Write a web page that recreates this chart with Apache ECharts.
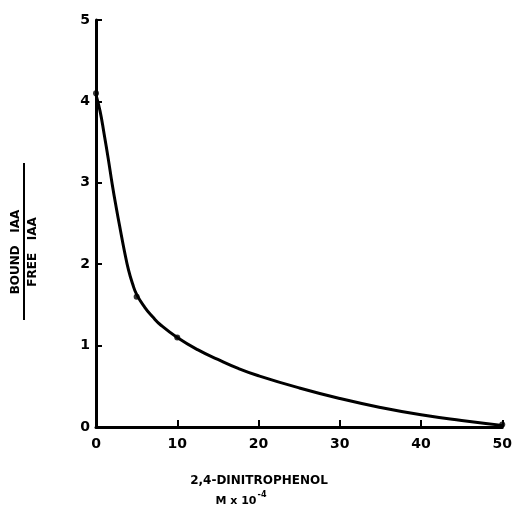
<!DOCTYPE html>
<html>
<head>
<meta charset="utf-8">
<script src="https://cdn.jsdelivr.net/npm/echarts@6/dist/echarts.min.js"></script>
<style>
  html, body { margin: 0; padding: 0; background: #fff; }
  #chart { width: 515px; height: 509px; }
</style>
</head>
<body>
<div id="chart"></div>
<script>
// fitted curve
const curveX = [0, 0.5, 1, 1.5, 2, 2.5, 3, 3.5, 4, 4.5, 5, 6, 7, 8, 10, 12.5, 15, 17.5, 20, 25, 30, 35, 40, 45, 50];
const curveY = [4.08, 3.88, 3.6, 3.3, 2.98, 2.69, 2.42, 2.16, 1.93, 1.76, 1.63, 1.47, 1.35, 1.25, 1.1, 0.95, 0.83, 0.72, 0.63, 0.48, 0.35, 0.24, 0.15, 0.08, 0.02];

// measured points
const pointX = [0, 5, 10, 50];
const pointY = [4.1, 1.6, 1.1, 0.03];

const xTicks = [0, 10, 20, 30, 40, 50];
const yTicks = [0, 1, 2, 3, 4, 5];

const chart = echarts.init(document.getElementById('chart'));
const ink = '#000';
const font = '"DejaVu Sans", sans-serif';

const option = {
  backgroundColor: '#fff',
  animation: false,
  grid: { left: 96, right: 10, top: 20, bottom: 82 },
  xAxis: {
    type: 'value',
    min: xTicks[0],
    max: xTicks[xTicks.length - 1],
    interval: 10,
    axisLine: { lineStyle: { color: ink, width: 3 } },
    axisTick: { inside: true, length: 7, lineStyle: { color: ink, width: 2 } },
    axisLabel: { color: ink, fontWeight: 'bold', fontSize: 14, fontFamily: font, margin: 10 },
    splitLine: { show: false }
  },
  yAxis: {
    type: 'value',
    min: yTicks[0],
    max: yTicks[yTicks.length - 1],
    interval: 1,
    axisLine: { show: true, lineStyle: { color: ink, width: 3 } },
    axisTick: { show: true, inside: true, length: 6, lineStyle: { color: ink, width: 2 } },
    axisLabel: { color: ink, fontWeight: 'bold', fontSize: 14, fontFamily: font, margin: 6 },
    splitLine: { show: false }
  },
  series: [
    {
      type: 'line',
      data: curveX.map((x, i) => [x, curveY[i]]),
      smooth: 0.5,
      showSymbol: false,
      lineStyle: { color: ink, width: 3 }
    },
    {
      type: 'scatter',
      data: pointX.map((x, i) => [x, pointY[i]]),
      symbolSize: 6,
      itemStyle: { color: ink }
    }
  ],
  graphic: [
    {
      type: 'text', x: 16, y: 252, rotation: Math.PI / 2,
      style: { text: 'BOUND   IAA', fill: ink, font: 'bold 12px ' + font, align: 'center', verticalAlign: 'middle' }
    },
    {
      type: 'line',
      shape: { x1: 24, y1: 163, x2: 24, y2: 320 },
      style: { stroke: ink, lineWidth: 2 }
    },
    {
      type: 'text', x: 33, y: 252, rotation: Math.PI / 2,
      style: { text: 'FREE   IAA', fill: ink, font: 'bold 12px ' + font, align: 'center', verticalAlign: 'middle' }
    },
    {
      type: 'text', x: 259, y: 481,
      style: { text: '2,4-DINITROPHENOL', fill: ink, font: 'bold 12px ' + font, align: 'center', verticalAlign: 'middle' }
    },
    {
      type: 'text', x: 236, y: 501,
      style: { text: 'M x 10', fill: ink, font: 'bold 11px ' + font, align: 'center', verticalAlign: 'middle' }
    },
    {
      type: 'text', x: 262, y: 495,
      style: { text: '-4', fill: ink, font: 'bold 8px ' + font, align: 'center', verticalAlign: 'middle' }
    }
  ]
};

chart.setOption(option);
</script>
</body>
</html>
